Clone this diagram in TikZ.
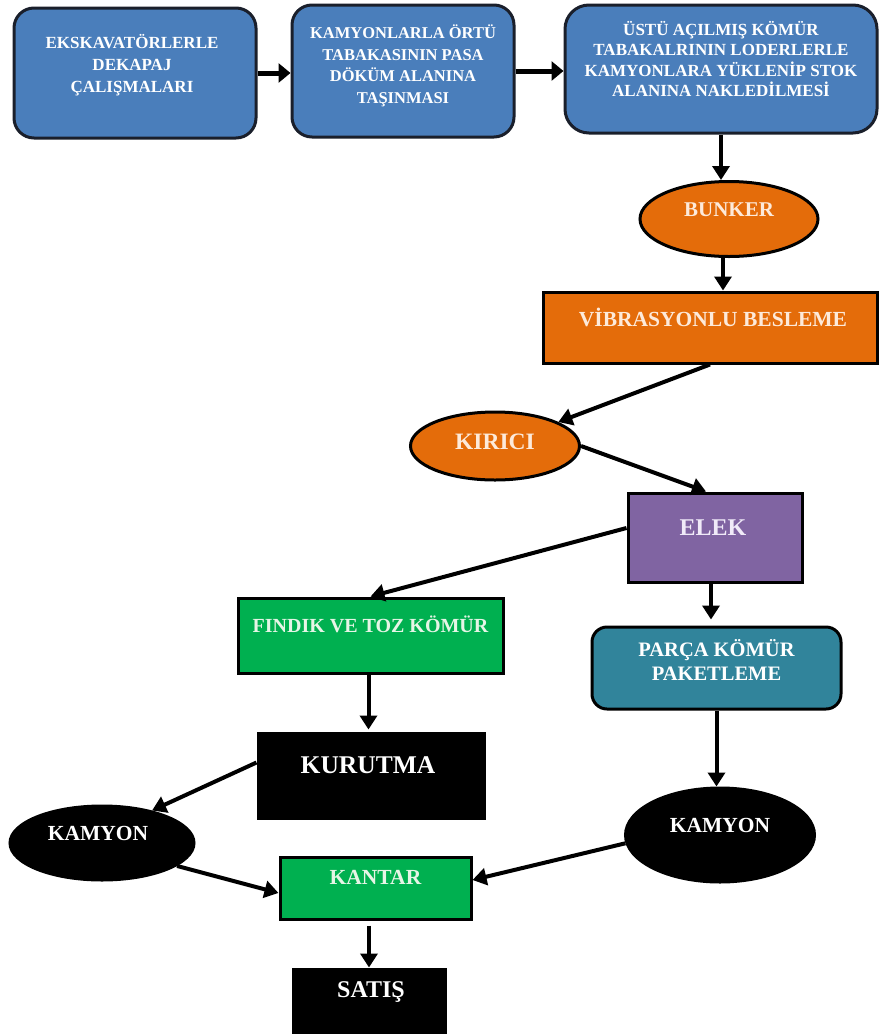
\documentclass[tikz,border=0pt]{standalone}
\usepackage{fontspec}
\setmainfont{Liberation Serif}
\usetikzlibrary{shapes.geometric,arrows.meta,calc}

\definecolor{boxblue}{HTML}{4A7EBB}
\definecolor{boxedge}{HTML}{1A1F2B}
\definecolor{boxorange}{HTML}{E46C0A}
\definecolor{boxpurple}{HTML}{8064A2}
\definecolor{boxgreen}{HTML}{00B050}
\definecolor{boxteal}{HTML}{31849B}
\definecolor{cream}{HTML}{FDEADA}
\definecolor{lavender}{HTML}{F0EAF8}
\definecolor{mint}{HTML}{E6F5E6}

\newcommand\setfs[2]{\fontsize{#1}{#2}\selectfont}

\begin{document}
\begin{tikzpicture}[x=1pt,y=-1pt,
  shapebase/.style={line width=3pt, inner sep=0pt},
  bluebox/.style={shapebase, draw=boxedge, fill=boxblue, rounded corners=20pt},
  orangebox/.style={shapebase, draw=black, fill=boxorange},
  orangeoval/.style={shapebase, draw=black, fill=boxorange, ellipse},
  purplebox/.style={shapebase, draw=black, fill=boxpurple},
  greenbox/.style={shapebase, draw=black, fill=boxgreen},
  tealbox/.style={shapebase, draw=black, fill=boxteal, rounded corners=15pt},
  blackbox/.style={shapebase, draw=black, fill=black},
  blackoval/.style={shapebase, draw=black, fill=black, ellipse},
  label text/.style={inner sep=0pt, align=center, font=\bfseries},
  arr/.style={line width=4pt, -{Triangle[length=14pt,width=17pt]}},
  toparr/.style={line width=5pt, -{Triangle[length=12pt,width=19pt]}}
]
\fill[white] (0,0) rectangle (879,1034);
\path[use as bounding box] (0,0) rectangle (879,1034);

% --- top row: stripping and haulage ---
\node[bluebox, minimum width=242pt, minimum height=130pt] (b1) at (135,73) {};
\node[label text, text=white, font=\bfseries\setfs{17}{22}] (b1t) at ([xshift=-3pt,yshift=8pt]b1)
  {EKSKAVATÖRLERLE\\DEKAPAJ\\ÇALIŞMALARI};

\node[bluebox, minimum width=222pt, minimum height=132pt] (b2) at (403,71) {};
\node[label text, text=white, font=\bfseries\setfs{16.5}{21.5}] (b2t) at ([yshift=5pt]b2)
  {KAMYONLARLA ÖRTÜ\\TABAKASININ PASA\\DÖKÜM ALANINA\\TAŞINMASI};

\node[bluebox, rounded corners=24pt, minimum width=312pt, minimum height=128pt] (b3) at (721,69) {};
\node[label text, text=white, font=\bfseries\setfs{17}{20.5}] (b3t) at ([yshift=10pt]b3)
  {ÜSTÜ AÇILMIŞ KÖMÜR\\TABAKALRININ LODERLERLE\\KAMYONLARA YÜKLENİP STOK\\ALANINA NAKLEDİLMESİ};

% --- feeding and crushing ---
\node[orangeoval, minimum width=178pt, minimum height=75pt] (bunker) at (729,219) {};
\node[label text, text=cream, font=\bfseries\setfs{21}{24}] (bunkert) at ([yshift=9pt]bunker) {BUNKER};

\node[orangebox, minimum width=334pt, minimum height=71pt] (vib) at (710,327.5) {};
\node[label text, text=cream, font=\bfseries\setfs{21.5}{24}] (vibt) at ([xshift=3pt,yshift=10pt]vib) {VİBRASYONLU BESLEME};

\node[orangeoval, minimum width=169pt, minimum height=68pt] (kirici) at (495,446) {};
\node[label text, text=cream, font=\bfseries\setfs{23.5}{26}] (kiricit) at ([yshift=4pt]kirici) {KIRICI};

\node[purplebox, minimum width=174pt, minimum height=89pt] (elek) at (715,537.5) {};
\node[label text, text=lavender, font=\bfseries\setfs{24}{26}] (elekt) at ([xshift=-2pt,yshift=10pt]elek) {ELEK};

% --- products ---
\node[greenbox, minimum width=265pt, minimum height=75pt] (findik) at (370.5,635.5) {};
\node[label text, text=mint, font=\bfseries\setfs{20}{22}] (findikt) at ([yshift=11pt]findik) {FINDIK VE TOZ KÖMÜR};

\node[tealbox, minimum width=249pt, minimum height=82pt] (parca) at (716.5,668) {};
\node[label text, text=white, font=\bfseries\setfs{20.5}{24}] (parcat) at ([yshift=8pt]parca) {PARÇA KÖMÜR\\PAKETLEME};

\node[blackbox, minimum width=226pt, minimum height=85pt] (kurutma) at (371,775.5) {};
\node[label text, text=white, font=\bfseries\setfs{25.5}{28}] (kurutmat) at ([xshift=-3pt,yshift=10pt]kurutma) {KURUTMA};

\node[blackoval, minimum width=184pt, minimum height=74pt] (kamyonL) at (102,843) {};
\node[label text, text=white, font=\bfseries\setfs{21.5}{24}] (kamyonLt) at ([xshift=-4pt,yshift=10pt]kamyonL) {KAMYON};

\node[blackoval, minimum width=189pt, minimum height=94pt] (kamyonR) at (720,835) {};
\node[label text, text=white, font=\bfseries\setfs{21.5}{24}] (kamyonRt) at ([yshift=10pt]kamyonR) {KAMYON};

\node[greenbox, minimum width=191pt, minimum height=62pt] (kantar) at (375.5,888) {};
\node[label text, text=mint, font=\bfseries\setfs{21.5}{24}] (kantart) at ([yshift=11pt]kantar) {KANTAR};

\node[blackbox, minimum width=152pt, minimum height=64pt] (satis) at (369,1001) {};
\node[label text, text=white, font=\bfseries\setfs{24}{26}] (satist) at ([xshift=2pt,yshift=9pt]satis) {SATIŞ};

% --- connectors ---
\draw[toparr] (b1.east) -- (b1.east -| b2.west);
\draw[toparr] (b2.east) -- (b2.east -| b3.west);
\draw[arr] (b3.south) -- (b3.south |- bunker.north);
\draw[arr] ([xshift=-6pt]bunker.south) -- ([xshift=-6pt]bunker.south |- vib.north);
\draw[arr] (vib.south) -- (kirici);
\draw[arr] (kirici.east) -- ([xshift=-9pt]elek.north);
\draw[arr] ([yshift=9.5pt]elek.west) -- (findik.north);
\draw[arr, shorten >=6pt] ([xshift=-4pt]elek.south) -- ([xshift=-4pt]elek.south |- parca.north);
\draw[arr, shorten >=2pt] ([xshift=-2pt]findik.south) -- ([xshift=-2pt]findik.south |- kurutma.north);
\draw[arr] (parca.south) -- (parca.south |- kamyonR.north);
\draw[arr] ([yshift=13pt]kurutma.west) -- (kamyonL.33);
\draw[arr] (kamyonL.-17) -- ([yshift=-5pt]kantar.west);
\draw[arr] (kamyonR.185) -- ([yshift=8pt]kantar.east);
\draw[arr, shorten <=5pt] (satis.north |- kantar.south) -- (satis.north);
\end{tikzpicture}
\end{document}
